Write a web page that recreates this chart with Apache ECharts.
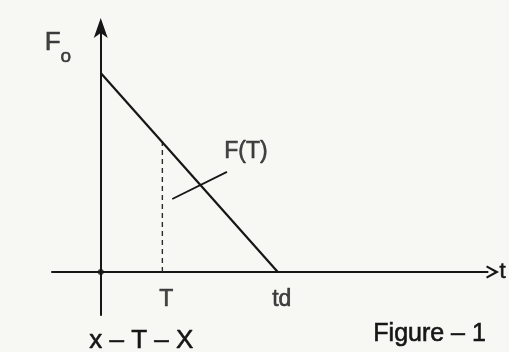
<!DOCTYPE html>
<html>
<head>
<meta charset="utf-8">
<script src="https://cdn.jsdelivr.net/npm/echarts@6/dist/echarts.min.js"></script>
<style>
  html, body { margin: 0; padding: 0; background: #f7f7f4; }
  #chart { width: 509px; height: 352px; }
</style>
</head>
<body>
<div id="chart"></div>
<script>
// Triangular load pulse: force falls linearly from F0 at t = 0 to zero at t = td
const peakForce = 1;          // F0
const pulseEnd = 1;           // td
const sampleTime = 0.348;     // T
const forceTimes = [0, pulseEnd];
const forceValues = [peakForce, 0];
const tickValues = [sampleTime, pulseEnd];
const tickLabels = ['T', 'td'];

const forceAt = t => peakForce * (1 - t / pulseEnd);
const ink = '#161616';
const font = 'Liberation Sans';
// slightly heavier strokes for the hand-lettered look
const heavy = { textBorderColor: ink, textBorderWidth: 0.6 };

const chart = echarts.init(document.getElementById('chart'), null, { renderer: 'canvas' });

chart.setOption({
  backgroundColor: '#f7f7f4',
  animation: false,
  grid: { left: 52, right: 21, top: 30, bottom: 37 },
  xAxis: {
    type: 'value',
    min: -0.2753,
    max: 2.185,
    name: 't',
    nameLocation: 'end',
    nameGap: 12,
    nameTextStyle: Object.assign({ color: ink, fontFamily: font, fontSize: 22, verticalAlign: 'middle', padding: [0, 0, 4, 0] }, heavy),
    splitLine: { show: false },
    axisTick: { show: false },
    axisLabel: { show: false },
    axisLine: {
      onZero: true,
      symbol: ['none', 'path://M0,13 L7,0 L14,13 L12,14 L7,5 L2,14 Z'],
      symbolSize: [13, 13],
      symbolOffset: [0, 5],
      lineStyle: { color: ink, width: 2 }
    }
  },
  yAxis: {
    type: 'value',
    min: -0.216,
    max: 1.216,
    splitLine: { show: false },
    axisTick: { show: false },
    axisLabel: { show: false },
    axisLine: {
      onZero: true,
      symbol: ['none', 'path://M7,0 L14,20 L7,15 L0,20 Z'],
      symbolSize: [15, 20],
      symbolOffset: [0, 2],
      lineStyle: { color: ink, width: 2 }
    }
  },
  series: [
    {
      // the load line F(t)
      type: 'line',
      data: forceTimes.map((t, i) => [t, forceValues[i]]),
      symbol: 'none',
      lineStyle: { color: ink, width: 2.2 },
      z: 5
    },
    {
      // ordinate at t = T
      type: 'line',
      data: [[sampleTime, 0], [sampleTime, forceAt(sampleTime)]],
      symbol: 'none',
      lineStyle: { color: '#2a2a2a', width: 1.4, type: [5, 4] },
      z: 4
    },
    {
      // pointer from the F(T) label to the ordinate
      type: 'line',
      data: [[0.404, 0.367], [0.713, 0.503]],
      symbol: 'none',
      lineStyle: { color: ink, width: 1.8 },
      z: 4
    },
    {
      // origin dot
      type: 'scatter',
      data: [[0, 0]],
      symbolSize: 6,
      itemStyle: { color: ink },
      z: 6
    },
    {
      // time labels under the axis
      type: 'scatter',
      data: tickValues.map((v, i) => ({ value: [v, 0], name: tickLabels[i] })),
      symbolSize: 1,
      itemStyle: { color: 'rgba(0,0,0,0)' },
      label: Object.assign({
        show: true,
        position: 'inside',
        offset: [4, 28],
        formatter: p => p.name,
        color: ink,
        fontFamily: font,
        fontSize: 23
      }, heavy)
    },
    {
      // F0 and F(T) annotations
      type: 'scatter',
      data: [
        { value: [-0.242, 1.16], name: 'F0' },
        { value: [0.82, 0.606], name: 'FT' }
      ],
      symbolSize: 1,
      itemStyle: { color: 'rgba(0,0,0,0)' },
      label: {
        show: true,
        position: 'inside',
        color: ink,
        fontFamily: font,
        formatter: p => p.name === 'F0' ? '{big|F}{sub|o}' : '{mid|F(T)}',
        rich: {
          big: Object.assign({ fontFamily: font, fontSize: 26, color: ink, verticalAlign: 'bottom', lineHeight: 30 }, heavy),
          sub: Object.assign({ fontFamily: font, fontSize: 19, color: ink, verticalAlign: 'bottom', lineHeight: 30, padding: [0, 0, -10, 0] }, heavy),
          mid: Object.assign({ fontFamily: font, fontSize: 23, color: ink }, heavy)
        }
      }
    }
  ],
  graphic: [
    {
      type: 'text',
      left: 89,
      top: 328,
      style: Object.assign({ text: 'x – T – X', fontFamily: font, fontSize: 26, fill: ink, stroke: ink, lineWidth: 0.6 })
    },
    {
      type: 'text',
      left: 373,
      top: 321,
      style: { text: 'Figure – 1', fontFamily: font, fontSize: 25, fill: ink, stroke: ink, lineWidth: 0.6 }
    }
  ]
});
</script>
</body>
</html>
